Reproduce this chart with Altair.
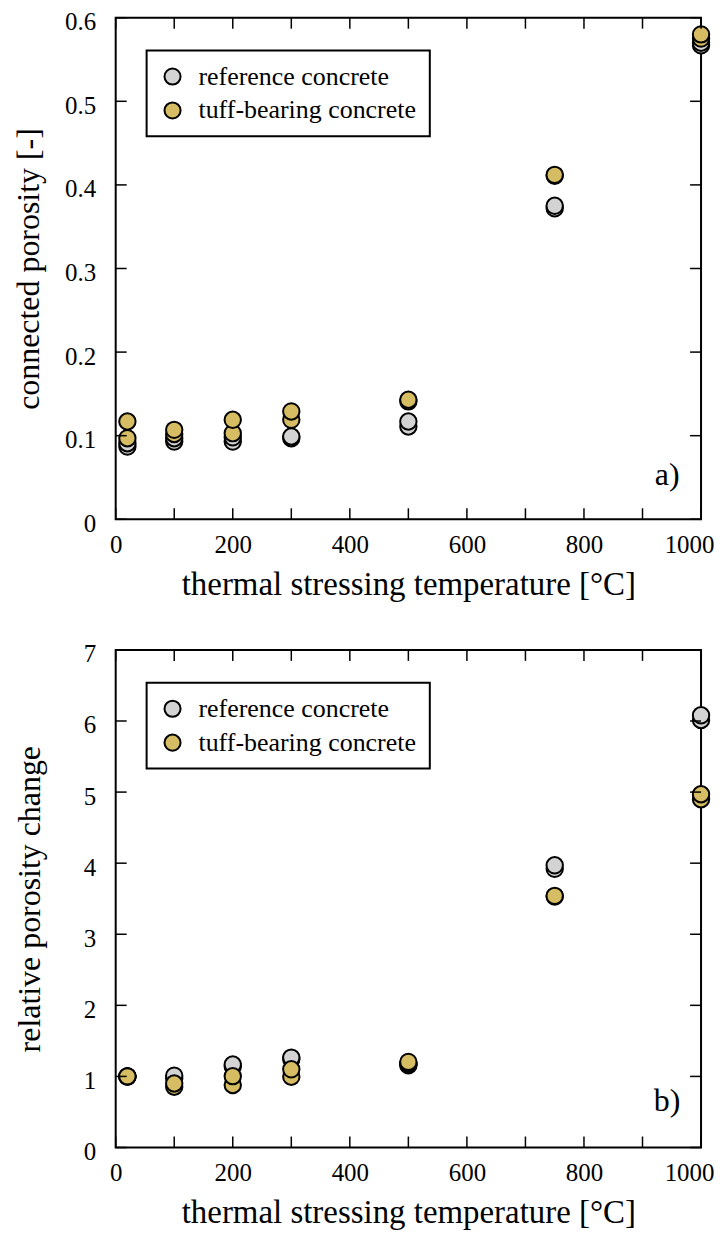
import altair as alt
import pandas as pd

# ---------------- data ----------------
series_names = ["reference concrete", "tuff-bearing concrete"]
series_colors = ["#d3d3d3", "#d6bc62"]

temps = [20, 20, 100, 100, 200, 200, 300, 300, 500, 500, 750, 750, 1000, 1000]

ref_porosity = [0.087, 0.091, 0.093, 0.097, 0.093, 0.098, 0.097, 0.099,
                0.111, 0.117, 0.372, 0.375, 0.567, 0.570]
tuff_porosity = [0.097, 0.117, 0.102, 0.107, 0.103, 0.119, 0.119, 0.129,
                 0.141, 0.143, 0.411, 0.412, 0.575, 0.580]

ref_relative = [1.0, 1.0, 0.97, 1.01, 1.14, 1.167, 1.24, 1.265,
                1.158, 1.17, 3.92, 3.97, 6.015, 6.08]
tuff_relative = [1.0, 1.0, 0.855, 0.90, 0.879, 1.004, 0.995, 1.10,
                 1.18, 1.204, 3.53, 3.54, 4.90, 4.97]

x_ticks = [0, 100, 200, 300, 400, 500, 600, 700, 800, 900, 1000]
x_labels = [0, 200, 400, 600, 800, 1000]
y_ticks_a = [0, 0.1, 0.2, 0.3, 0.4, 0.5, 0.6]
y_ticks_b = [0, 1, 2, 3, 4, 5, 6, 7]
panel_labels = ["a)", "b)"]

x_title = "thermal stressing temperature [°C]"
y_title_a = "connected porosity [-]"
y_title_b = "relative porosity change"

FONT = "Liberation Serif"
W = 587
TICK = 11


def long_df(ref, tuff):
    rows = []
    for t, v in zip(temps, ref):
        rows.append({"temp": t, "value": v, "series": series_names[0]})
    for t, v in zip(temps, tuff):
        rows.append({"temp": t, "value": v, "series": series_names[1]})
    return pd.DataFrame(rows)


def panel(df, H, y_domain, y_ticks, y_title, y_label_expr, label, title_pad, lab_off):
    xs = alt.Scale(domain=[0, 1000], nice=False, zero=False)
    ys = alt.Scale(domain=y_domain, nice=False, zero=False)
    xaxis = alt.Axis(values=x_labels, title=x_title, labelPadding=13,
                     titlePadding=11, labelFlush=False, format="d",
                     titleFontSize=33,
                     labelOffset={"condition": {"test": "datum.value == 1000",
                                                "value": -12}, "value": 0})
    yaxis = alt.Axis(values=y_ticks, title=y_title, labelPadding=20,
                     titlePadding=title_pad, labelFlush=False, labelOffset=4,
                     labelExpr=y_label_expr, titleFontSize=32)
    pts = alt.Chart(df).mark_circle(
        size=270, opacity=1, stroke="black", strokeWidth=2
    ).encode(
        x=alt.X("temp:Q", scale=xs, axis=xaxis, title=x_title),
        y=alt.Y("value:Q", scale=ys, axis=yaxis, title=y_title),
        fill=alt.Fill("series:N",
                      scale=alt.Scale(domain=series_names, range=series_colors),
                      legend=alt.Legend(orient="none", legendX=31, legendY=33,
                                        title=None)),
        order=alt.Order("series:N"),
    )
    xt = pd.DataFrame({"t": x_ticks})
    yt = pd.DataFrame({"t": y_ticks})
    bx = alt.Chart(xt).mark_rule(color="black", strokeWidth=1.5).encode(
        x=alt.X("t:Q", scale=xs, axis=xaxis, title=x_title),
        y=alt.value(H), y2=alt.value(H - TICK))
    tx = alt.Chart(xt).mark_rule(color="black", strokeWidth=1.5).encode(
        x=alt.X("t:Q", scale=xs, axis=xaxis, title=x_title),
        y=alt.value(0), y2=alt.value(TICK))
    ly = alt.Chart(yt).mark_rule(color="black", strokeWidth=1.5).encode(
        y=alt.Y("t:Q", scale=ys, axis=yaxis, title=y_title),
        x=alt.value(0), x2=alt.value(TICK))
    ry = alt.Chart(yt).mark_rule(color="black", strokeWidth=1.5).encode(
        y=alt.Y("t:Q", scale=ys, axis=yaxis, title=y_title),
        x=alt.value(W), x2=alt.value(W - TICK))
    txt = alt.Chart(pd.DataFrame({"lab": [label]})).mark_text(
        font=FONT, fontSize=32, color="black", align="center", baseline="middle"
    ).encode(text="lab:N", x=alt.value(W - 34), y=alt.value(H - lab_off))
    return alt.layer(pts, bx, tx, ly, ry, txt).properties(width=W, height=H)


top = panel(long_df(ref_porosity, tuff_porosity), 503, [0, 0.6], y_ticks_a, y_title_a,
            "datum.value == 0 ? '0' : format(datum.value, '.1f')", panel_labels[0], 19, 44)
bottom = panel(long_df(ref_relative, tuff_relative), 499, [0, 7], y_ticks_b, y_title_b,
               "format(datum.value, 'd')", panel_labels[1], 37, 47)

chart = alt.vconcat(top, bottom, spacing=39).resolve_scale(
    fill="independent"
).resolve_legend(fill="independent").properties(
    padding={"left": 3, "top": -1, "right": 0, "bottom": 0}
).configure_view(
    stroke="black", strokeWidth=2
).configure_axis(
    domain=False, ticks=False, grid=False,
    labelFont=FONT, labelFontSize=25, labelColor="black",
    titleFont=FONT, titleFontSize=32, titleFontWeight="normal", titleColor="black",
).configure_legend(
    labelFont=FONT, labelFontSize=26, labelColor="black", labelLimit=400,
    strokeColor="black", strokeWidth=2, padding=13, rowPadding=8,
    symbolType="circle", symbolSize=260, symbolStrokeColor="black",
    symbolStrokeWidth=2, labelOffset=13, fillColor="white",
)

chart.save("out.html", embed_options={"renderer": "svg", "actions": False})
